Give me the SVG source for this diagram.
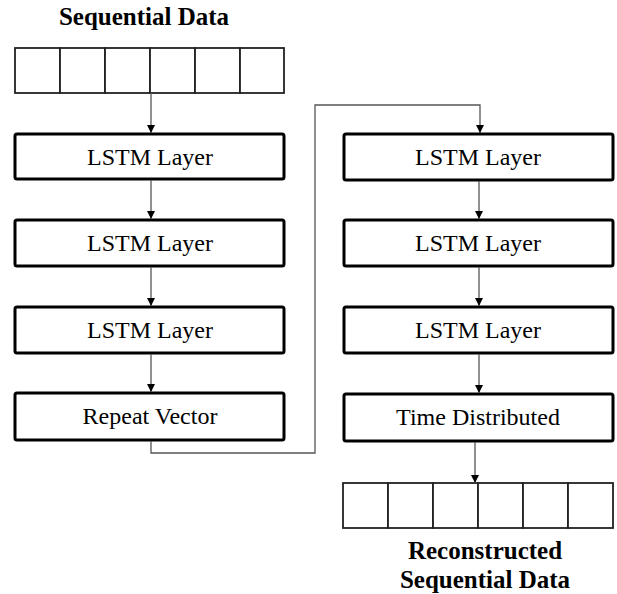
<svg xmlns="http://www.w3.org/2000/svg" width="617" height="594" viewBox="0 0 617 594">
  <style>
    .box { fill: #fff; stroke: #000; stroke-width: 3; }
    .cell { fill: #fff; stroke: #222; stroke-width: 1.8; }
    .lbl { font-family: "Liberation Serif", "Times New Roman", serif; font-size: 24px; fill: #000; text-anchor: middle; }
    .ttl { font-family: "Liberation Serif", "Times New Roman", serif; font-size: 25px; font-weight: bold; fill: #000; text-anchor: middle; }
    .wire { fill: none; stroke: #555; stroke-width: 1.3; }
  </style>
  <defs>
    <marker id="head" viewBox="0 0 10 10" refX="10" refY="5" markerWidth="8" markerHeight="8" markerUnits="userSpaceOnUse" orient="auto">
      <path d="M0,0 L10,5 L0,10 Z" fill="#000"/>
    </marker>
  </defs>
  <rect width="617" height="594" fill="#fff"/>

  <!-- input sequence -->
  <g id="input">
    <text class="ttl" x="144" y="25">Sequential Data</text>
    <rect class="cell" x="15" y="48" width="45" height="45"/>
    <rect class="cell" x="60" y="48" width="45" height="45"/>
    <rect class="cell" x="105" y="48" width="45" height="45"/>
    <rect class="cell" x="150" y="48" width="45" height="45"/>
    <rect class="cell" x="195" y="48" width="45" height="45"/>
    <rect class="cell" x="240" y="48" width="44" height="45"/>
  </g>

  <!-- encoder -->
  <g id="enc1"><rect class="box" x="15" y="134" width="269" height="45" rx="2"/><text class="lbl" x="150" y="165">LSTM Layer</text></g>
  <g id="enc2"><rect class="box" x="15" y="220" width="269" height="46" rx="2"/><text class="lbl" x="150" y="251">LSTM Layer</text></g>
  <g id="enc3"><rect class="box" x="15" y="307" width="269" height="46" rx="2"/><text class="lbl" x="150" y="338">LSTM Layer</text></g>
  <g id="repeat"><rect class="box" x="15" y="393" width="269" height="47" rx="2"/><text class="lbl" x="150" y="424">Repeat Vector</text></g>

  <!-- decoder -->
  <g id="dec1"><rect class="box" x="344" y="134" width="269" height="46" rx="2"/><text class="lbl" x="478" y="165">LSTM Layer</text></g>
  <g id="dec2"><rect class="box" x="344" y="220" width="269" height="46" rx="2"/><text class="lbl" x="478" y="251">LSTM Layer</text></g>
  <g id="dec3"><rect class="box" x="344" y="307" width="269" height="46" rx="2"/><text class="lbl" x="478" y="338">LSTM Layer</text></g>
  <g id="timedist"><rect class="box" x="344" y="394" width="269" height="47" rx="2"/><text class="lbl" x="478" y="425">Time Distributed</text></g>

  <!-- reconstructed sequence -->
  <g id="output">
    <rect class="cell" x="343" y="483" width="45" height="45"/>
    <rect class="cell" x="388" y="483" width="45" height="45"/>
    <rect class="cell" x="433" y="483" width="45" height="45"/>
    <rect class="cell" x="478" y="483" width="45" height="45"/>
    <rect class="cell" x="523" y="483" width="45" height="45"/>
    <rect class="cell" x="568" y="483" width="45" height="45"/>
    <text class="ttl" x="485" y="559">Reconstructed</text>
    <text class="ttl" x="485" y="588">Sequential Data</text>
  </g>

  <!-- connectors -->
  <g id="connectors">
    <path class="wire" d="M151,93 V133" marker-end="url(#head)"/>
    <path class="wire" d="M151,180 V219" marker-end="url(#head)"/>
    <path class="wire" d="M151,267 V306" marker-end="url(#head)"/>
    <path class="wire" d="M151,354 V392" marker-end="url(#head)"/>
    <path class="wire" d="M151,441 V453 H315 V105 H480 V133" marker-end="url(#head)"/>
    <path class="wire" d="M479,181 V219" marker-end="url(#head)"/>
    <path class="wire" d="M479,267 V306" marker-end="url(#head)"/>
    <path class="wire" d="M479,354 V393" marker-end="url(#head)"/>
    <path class="wire" d="M475,442 V483" marker-end="url(#head)"/>
  </g>
</svg>
